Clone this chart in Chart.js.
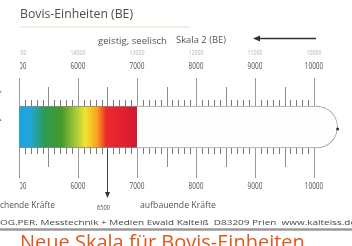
<!DOCTYPE html>
<html>
<head>
<meta charset="utf-8">
<script src="https://cdn.jsdelivr.net/npm/chart.js@4"></script>
<style>
  body { margin: 0; background: #fff; }
  #wrap { width: 352px; height: 246px; position: relative; }
</style>
</head>
<body>
<div id="wrap"><canvas id="bovis-chart"></canvas></div>
<script>
// scale values
const mainTicks = [5000, 6000, 7000, 8000, 9000, 10000];
const scale2Ticks = [15000, 14000, 13000, 12000, 11000, 10000];
const colourBand = [5000, 7000];
const tubeBand = [7000, 10400];
const markerValue = 6500;
const minorStep = 100;

function drawFit(ctx, text, x, y, font, color, opts) {
    ctx.save();
    ctx.font = font;
    ctx.fillStyle = color;
    ctx.textBaseline = 'middle';
    ctx.textAlign = opts.align || 'center';
    const w = ctx.measureText(text).width;
    const s = opts.width ? opts.width / w : (opts.sx || 1);
    ctx.translate(x, y);
    ctx.scale(s, 1);
    ctx.fillText(text, 0, 0);
    ctx.restore();
}

const scalePlugin = {
    id: 'bovisScale',
    afterDraw(chart) {
        const ctx = chart.ctx;
        const x = chart.scales.x;
        const meta = chart.getDatasetMeta(1).data[0];
        const top = meta.y - meta.height / 2;
        const bottom = meta.y + meta.height / 2;

        // tick marks above and below the tube
        ctx.save();
        ctx.lineWidth = 1;
        for (let v = mainTicks[0]; v <= mainTicks[mainTicks.length - 1]; v += minorStep) {
            const px = Math.round(x.getPixelForValue(v)) + 0.5;
            let up = 6, down = 6, col = '#7a7a7a';
            if (v % 1000 === 0) { up = 28; down = 30; col = '#999'; }
            else if (v % 500 === 0) { up = 19; down = 19; col = '#8a8a8a'; }
            ctx.strokeStyle = col;
            ctx.beginPath();
            ctx.moveTo(px, top - up); ctx.lineTo(px, top);
            ctx.moveTo(px, bottom); ctx.lineTo(px, bottom + down);
            ctx.stroke();
        }
        ctx.restore();

        // tick labels, cut off on the left like the picture
        ctx.save();
        ctx.beginPath();
        ctx.rect(20, 0, 340, 246);
        ctx.clip();
        scale2Ticks.forEach((t, i) => {
            drawFit(ctx, String(t), x.getPixelForValue(mainTicks[i]), 53, '7px "Open Sans"', '#b3b3b3', { sx: 0.75 });
        });
        mainTicks.forEach(t => {
            const px = x.getPixelForValue(t);
            drawFit(ctx, String(t), px, 67, '8.5px "Open Sans"', '#4d4d4d', { sx: 0.76 });
            drawFit(ctx, String(t), px, 187, '8.5px "Open Sans"', '#4d4d4d', { sx: 0.76 });
        });
        ctx.restore();

        // end dot of the tube
        ctx.save();
        ctx.fillStyle = '#333';
        ctx.beginPath();
        ctx.arc(x.getPixelForValue(tubeBand[1]), meta.y + 2, 1.5, 0, Math.PI * 2);
        ctx.fill();
        ctx.restore();

        // 6500 marker arrow
        const mx = Math.round(x.getPixelForValue(markerValue)) + 0.5;
        ctx.save();
        ctx.strokeStyle = '#444';
        ctx.fillStyle = '#333';
        ctx.lineWidth = 1;
        ctx.beginPath();
        ctx.moveTo(mx, bottom + 1); ctx.lineTo(mx, 194);
        ctx.stroke();
        ctx.beginPath();
        ctx.moveTo(mx - 2.5, 192); ctx.lineTo(mx + 2.5, 192); ctx.lineTo(mx, 198);
        ctx.closePath(); ctx.fill();
        ctx.restore();
        drawFit(ctx, String(markerValue), mx - 4, 208, '8px "Open Sans"', '#4d4d4d', { width: 13 });

        // Skala 2 arrow
        ctx.save();
        ctx.strokeStyle = '#333';
        ctx.fillStyle = '#333';
        ctx.lineWidth = 1.3;
        ctx.beginPath();
        ctx.moveTo(316, 38.5); ctx.lineTo(258, 38.5);
        ctx.stroke();
        ctx.beginPath();
        ctx.moveTo(253, 38.5); ctx.lineTo(260, 35.5); ctx.lineTo(260, 41.5);
        ctx.closePath(); ctx.fill();
        ctx.restore();

        // texts
        drawFit(ctx, 'Bovis-Einheiten (BE)', 20, 14, '13px "Open Sans"', '#4d4d4d', { width: 113, align: 'left' });
        ctx.save();
        ctx.strokeStyle = '#f3f0e2';
        ctx.lineWidth = 2;
        ctx.beginPath(); ctx.moveTo(20, 27); ctx.lineTo(190, 27); ctx.stroke();
        ctx.restore();
        drawFit(ctx, 'geistig, seelisch', 98, 41, '9px "Open Sans"', '#555', { width: 69, align: 'left' });
        drawFit(ctx, 'Skala 2 (BE)', 176, 40, '9px "Open Sans"', '#555', { width: 50, align: 'left' });
        drawFit(ctx, 'chende Kräfte', 0, 206, '8.5px "Open Sans"', '#555', { width: 55, align: 'left' });
        drawFit(ctx, 'aufbauende Kräfte', 140, 206, '8.5px "Open Sans"', '#555', { width: 76, align: 'left' });
        drawFit(ctx, 'OG.PER. Messtechnik + Medien Ewald Kalteiß  D83209 Prien  www.kalteiss.de', 0, 223, '7.5px "Open Sans"', '#444', { width: 356, align: 'left' });
        ctx.save();
        ctx.strokeStyle = '#9a9a9a';
        ctx.lineWidth = 2.5;
        ctx.beginPath(); ctx.moveTo(0, 229.5); ctx.lineTo(352, 229.5); ctx.stroke();
        ctx.restore();
        ctx.save();
        ctx.font = '20px "Open Sans"';
        ctx.fillStyle = '#e2581c';
        ctx.textBaseline = 'top';
        ctx.fillText('Neue Skala für Bovis-Einheiten', 20, 233);
        ctx.font = 'bold 10px "Open Sans"';
        ctx.fillText('r', -3, 89);
        ctx.fillText('.', -1, 113);
        ctx.restore();
    }
};

const canvas = document.getElementById('bovis-chart');
new Chart(canvas, {
    type: 'bar',
    data: {
        labels: ['BE'],
        datasets: [{
            data: [colourBand],
            backgroundColor: (c) => {
                const chart = c.chart;
                if (!chart.chartArea) return '#e8202a';
                const x = chart.scales.x;
                const g = chart.ctx.createLinearGradient(x.getPixelForValue(colourBand[0]), 0, x.getPixelForValue(colourBand[1]), 0);
                g.addColorStop(0, '#1ba2e4');
                g.addColorStop(0.1, '#22a6d6');
                g.addColorStop(0.22, '#2f9a4e');
                g.addColorStop(0.36, '#46982c');
                g.addColorStop(0.47, '#9cc53a');
                g.addColorStop(0.56, '#f2e42e');
                g.addColorStop(0.66, '#f7a521');
                g.addColorStop(0.74, '#ec2a2c');
                g.addColorStop(0.9, '#e31e2e');
                g.addColorStop(1, '#c81d33');
                return g;
            },
            borderColor: '#8a8a8a',
            borderWidth: { top: 1, bottom: 1, left: 0, right: 0 },
            borderSkipped: false,
            barThickness: 42,
            grouped: false
        }, {
            data: [tubeBand],
            backgroundColor: '#fdfdfd',
            borderColor: '#a0a0a0',
            borderWidth: 1,
            borderSkipped: 'left',
            borderRadius: { topLeft: 0, bottomLeft: 0, topRight: 21, bottomRight: 21 },
            barThickness: 42,
            grouped: false
        }]
    },
    options: {
        indexAxis: 'y',
        responsive: true,
        maintainAspectRatio: false,
        animation: false,
        layout: { padding: { top: 8, bottom: 0, left: 0, right: 0 } },
        scales: {
            x: { type: 'linear', display: false, min: 4678, max: 10644 },
            y: { display: false }
        },
        plugins: { legend: { display: false }, tooltip: { enabled: false } }
    },
    plugins: [scalePlugin]
});
</script>
</body>
</html>
